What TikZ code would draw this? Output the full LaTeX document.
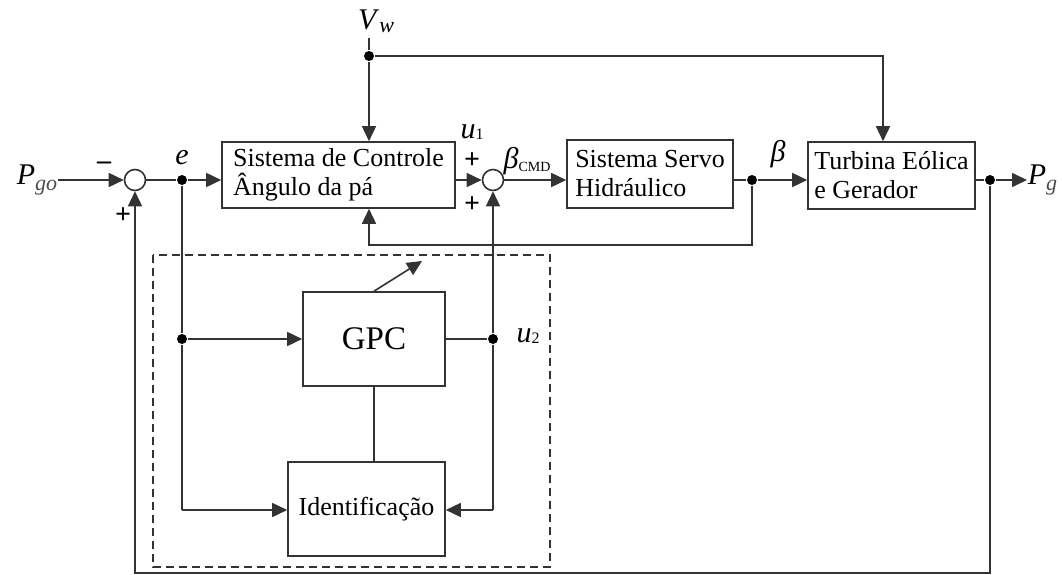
\documentclass[tikz,border=0pt]{standalone}
\usepackage{fontspec}
\setmainfont{Liberation Serif}
\usetikzlibrary{arrows.meta}
\newcommand\boxfont{\fontsize{26}{29}\selectfont}
\newcommand\lblfont{\fontsize{30}{32}\selectfont}
\begin{document}
\begin{tikzpicture}[x=1pt,y=-1pt,
  line width=1.6pt, draw=black!80,
  arr/.style={-{Triangle[length=15pt,width=14pt]}},
  blk/.style={draw=black!80, line width=1.6pt, rectangle, inner sep=2pt, align=left, font=\boxfont},
  sum/.style={draw=black!80, line width=1.6pt, circle, minimum size=21pt, inner sep=0pt, fill=white},
  dot/.style={circle, fill=black, minimum size=10pt, inner sep=0pt},
  lbl/.style={inner sep=0pt, font=\lblfont},
  sgn/.style={inner sep=0pt, font=\bfseries\fontsize{28}{28}\selectfont}]
\useasboundingbox (0,0) rectangle (1062,575);

% blocks
\node[blk, minimum width=233pt, minimum height=66pt] (ctrl) at (338.5,175) {Sistema de Controle\\Ângulo da pá};
\node[blk, minimum width=166pt, minimum height=68pt] (servo) at (650,174) {Sistema Servo\\Hidráulico};
\node[blk, minimum width=167pt, minimum height=67pt] (turb) at (891.5,175.5) {Turbina Eólica\\e Gerador};
\node[blk, minimum width=142pt, minimum height=94pt, font=\fontsize{33}{35}\selectfont] (gpc) at (374,339) {GPC};
\node[blk, minimum width=157pt, minimum height=94pt, font=\fontsize{26}{28}\selectfont] (ident) at (366.5,509) {Identificação};

% summing junctions
\node[sum] (s1) at (135,180) {};
\node[sum] (s2) at (493,180) {};

% dots
\node[dot] (de) at (182,180) {};
\node[dot] (dvw) at (369,56) {};
\node[dot] (dbeta) at (752,180) {};
\node[dot] (dout) at (990,180) {};
\node[dot] (dg) at (182,339) {};
\node[dot] (du) at (493,339) {};

% helper coordinates
\coordinate (cw) at (883,56);
\coordinate (fb) at (752,245);
\coordinate (bot) at (990,573);
\coordinate (ci) at (182,510);
\coordinate (cu) at (493,510);
\coordinate (adj) at (422,261);
\coordinate (vtop) at (369,38);

% labels
\node[lbl, anchor=east] (pgo) at (58,180) {\fontsize{30}{32}\selectfont\textit{P}\raisebox{-0.2em}{\fontsize{22}{22}\selectfont\textit{\color{black!70}go}}};
\node[lbl, anchor=west] (pg) at (1027,180) {\fontsize{30}{32}\selectfont\textit{P}\raisebox{-0.2em}{\fontsize{22}{22}\selectfont\textit{\color{black!70}g}}};
\node[lbl] (vw) at (376,21) {\textit{V}\raisebox{-0.1em}{\fontsize{22}{22}\selectfont\textit{w}}};
\node[lbl] (le) at (182,158) {\textit{e}};
\node[lbl] (lu1) at (472,132) {\textit{u}\raisebox{-0.05em}{\fontsize{16}{16}\selectfont 1}};
\node[lbl] (lbc) at (527,161) {\textit{β}\raisebox{-0.1em}{\fontsize{14}{14}\selectfont CMD}};
\node[lbl] (lb) at (778,154) {\textit{β}};
\node[lbl] (lu2) at (528,336) {\textit{u}\raisebox{-0.05em}{\fontsize{16}{16}\selectfont 2}};
\node[sgn] (m1) at (104,166) {–};
\node[sgn] (p1) at (123,216) {+};
\node[sgn] (p2) at (472,161) {+};
\node[sgn] (p3) at (472,205) {+};

% forward path
\draw[arr] (pgo.east |- s1) -- (s1.west);
\draw (s1.east) -- (de);
\draw[arr] (de) -- (ctrl.west |- de);
\draw[arr] (ctrl.east |- s2) -- (s2.west);
\draw[arr] (s2.east) -- (servo.west |- s2);
\draw (servo.east |- dbeta) -- (dbeta);
\draw[arr] (dbeta) -- (turb.west |- dbeta);
\draw (turb.east |- dout) -- (dout);
\draw[arr] (dout) -- (pg.west);

% wind speed
\draw (vtop) -- (dvw);
\draw[arr] (dvw) -- (dvw |- ctrl.north);
\draw[arr] (dvw) -- (cw) -- (cw |- turb.north);

% feedbacks
\draw[arr] (dbeta) -- (fb) -| (dvw |- ctrl.south);
\draw[arr] (dout) -- (bot) -| (s1.south);

% adaptive part
\draw (de) -- (dg) -- (ci);
\draw[arr] (dg) -- (gpc.west);
\draw[arr] (ci) -- (ident.west |- ci);
\draw (gpc.east) -- (du);
\draw[arr] (du) -- (s2.south);
\draw (du) -- (cu);
\draw[arr] (cu) -- (ident.east |- cu);
\draw (gpc.south) -- (gpc.south |- ident.north);
\draw[arr] (gpc.north) -- (adj);

% dashed frame
\draw[dash pattern=on 8pt off 5pt] (153,255) rectangle (550,567);
\end{tikzpicture}
\end{document}
